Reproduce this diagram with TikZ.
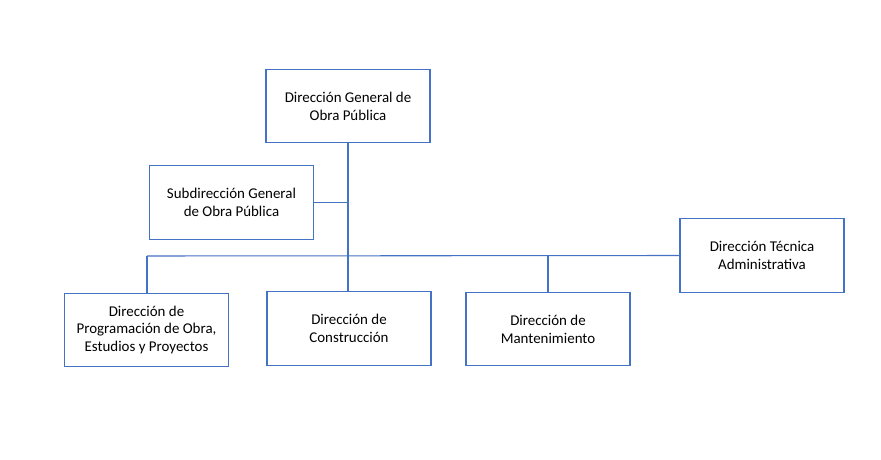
\documentclass[tikz,border=0pt]{standalone}
\usepackage{fontspec}
\setmainfont{Carlito}
\definecolor{lineblue}{HTML}{4472C4}
\begin{document}
\begin{tikzpicture}[x=0.75pt,y=-0.75pt,
  unit/.style={draw=lineblue, line width=0.8pt, fill=white, minimum width=123pt, minimum height=55pt, align=center, font=\fontsize{11.2}{13.4}\selectfont, inner sep=2pt},
  conn/.style={draw=lineblue, line width=0.8pt}]
\useasboundingbox (0,0) rectangle (881,460);
\node[unit] (dg) at (348,106) {Dirección General de\\Obra Pública};
\node[unit] (sg) at (231.5,202.5) {Subdirección General\\de Obra Pública};
\node[unit] (dta) at (762,255.5) {Dirección Técnica\\Administrativa};
\node[unit] (dp) at (146.5,330) {Dirección de\\Programación de Obra,\\Estudios y Proyectos};
\node[unit] (dc) at (349,328.5) {Dirección de\\Construcción};
\node[unit] (dm) at (548,329) {Dirección de\\Mantenimiento};
\coordinate (j) at (348,256);
\coordinate (jl) at (147,256);
\coordinate (jm) at (548,256);
\draw[conn] (dg.south) -- (j);
\draw[conn] (sg.east) -- (sg.east -| j);
\draw[conn] (jl) -- (dta.west);
\draw[conn] (jl) -- (dp.north -| jl);
\draw[conn] (j) -- (dc.north -| j);
\draw[conn] (jm) -- (dm.north);
\end{tikzpicture}
\end{document}
